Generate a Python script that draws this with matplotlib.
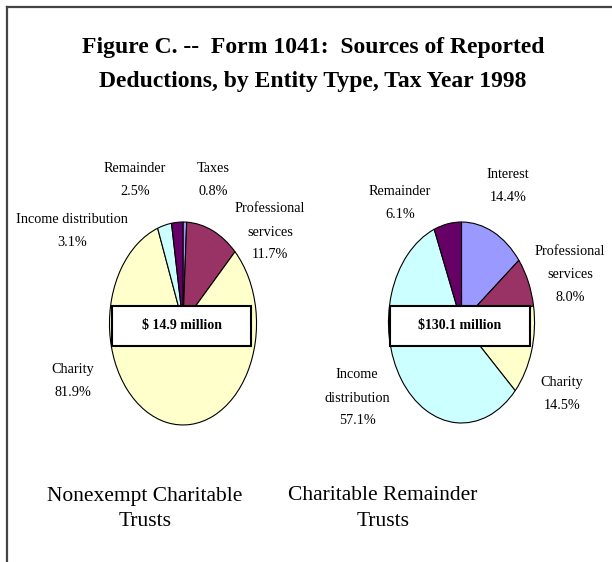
import matplotlib.pyplot as plt
from matplotlib.patches import Rectangle
from matplotlib.lines import Line2D

# data
left_labels = ['Taxes', 'Professional\nservices', 'Charity', 'Income distribution', 'Remainder']
left_values = [0.8, 11.7, 81.9, 3.1, 2.5]
left_colors = ['#9999FF', '#993366', '#FFFFCC', '#CCFFFF', '#660066']
left_total = '$ 14.9 million'
left_title = 'Nonexempt Charitable\nTrusts'

right_labels = ['Interest', 'Professional\nservices', 'Charity', 'Income\ndistribution', 'Remainder']
right_values = [14.4, 8.0, 14.5, 57.1, 6.1]
right_colors = ['#9999FF', '#993366', '#FFFFCC', '#CCFFFF', '#660066']
right_total = '$130.1 million'
right_title = 'Charitable Remainder\nTrusts'

# label centres in pixels (x, y from top)
left_pos = [(213, 180), (270, 232), (73, 381), (72, 231), (135, 180)]
right_pos = [(508, 186), (570, 275), (562, 394), (357, 398), (400, 203)]

W, H = 612, 562
fig = plt.figure(figsize=(W / 100, H / 100), dpi=100)
serif = ['Liberation Serif', 'DejaVu Serif']


def fx(x):
    return x / W


def fy(y):
    return 1 - y / H


# frame
fig.add_artist(Line2D([fx(7), fx(7)], [fy(7), 0], color='#444444', lw=1.6))
fig.add_artist(Line2D([fx(7), 1], [fy(7), fy(7)], color='#444444', lw=1.6))

fig.text(fx(313), fy(47), 'Figure C. --  Form 1041:  Sources of Reported',
         ha='center', va='center', fontsize=17, fontweight='bold', family=serif)
fig.text(fx(313), fy(81), 'Deductions, by Entity Type, Tax Year 1998',
         ha='center', va='center', fontsize=17, fontweight='bold', family=serif)


def draw_pie(x0, x1, y0, y1, values, colors, labels, pos, total, box, title, title_x):
    ax = fig.add_axes([fx(x0), fy(y1), fx(x1 - x0), (y1 - y0) / H])
    ax.pie(values, colors=colors, startangle=90, counterclock=False, radius=1,
           wedgeprops=dict(edgecolor='black', linewidth=0.8))
    ax.set_aspect('auto')
    ax.set_xlim(-1.02, 1.02)
    ax.set_ylim(-1.02, 1.02)
    ax.axis('off')

    for lab, v, (px, py) in zip(labels, values, pos):
        fig.text(fx(px), fy(py), f'{lab}\n{v:.1f}%', ha='center', va='center',
                 fontsize=10.3, family=serif, linespacing=2.0)

    bx0, bx1, by0, by1 = box
    fig.add_artist(Rectangle((fx(bx0), fy(by1)), fx(bx1 - bx0), (by1 - by0) / H,
                             transform=fig.transFigure, facecolor='white',
                             edgecolor='black', lw=1.5, zorder=5))
    fig.text(fx((bx0 + bx1) / 2), fy((by0 + by1) / 2), total, ha='center',
             va='center', fontsize=10, fontweight='bold', family=serif, zorder=6)

    fig.text(fx(title_x), fy(509), title, ha='center', va='center',
             fontsize=15.5, family=serif, linespacing=1.5)


draw_pie(108, 258, 220, 427, left_values, left_colors, left_labels, left_pos,
         left_total, (112, 251, 306, 346), left_title, 145)
draw_pie(387, 536, 220, 425, right_values, right_colors, right_labels, right_pos,
         right_total, (390, 530, 306, 346), right_title, 383)

plt.savefig('out.png', dpi=100)
